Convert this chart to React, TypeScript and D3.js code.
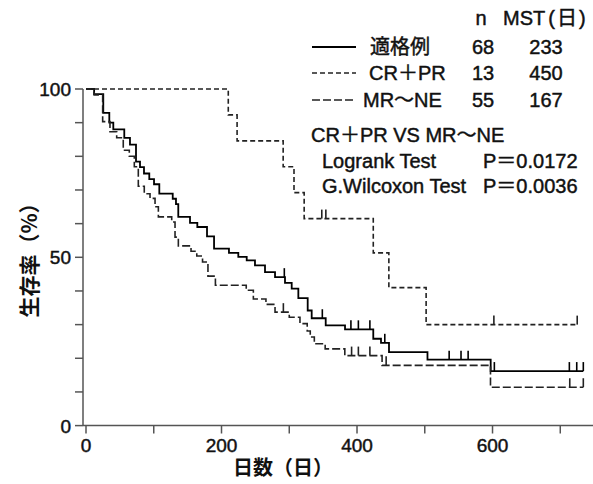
import React from "react";
import * as d3 from "d3";

// ---- data ----
const eligibleTimes = [12, 25.5, 34.4, 40.3, 56.5, 64.9, 73.8, 79.7, 85.6, 93.4, 100.4, 108.2, 128, 132.8, 136.2, 153.5, 164.3, 178.6, 189, 211, 224.8, 237.2, 249.4, 264.2, 279, 293.7, 303.6, 313.4, 327.2, 333.1, 353.8, 382.3, 424, 435.4, 447.2, 504, 597.3];
const eligibleSurv = [98.5, 92.9, 90.0, 88.0, 85.5, 83.5, 78.4, 76.8, 74.9, 73.2, 71.7, 68.9, 67.4, 65.8, 62.0, 60.2, 59.0, 56.2, 52.6, 51.3, 50.1, 49.1, 47.6, 45.6, 44.1, 42.4, 40.7, 37.9, 34.2, 31.9, 29.8, 28.6, 25.8, 24.6, 21.8, 19.6, 16.2];
const eligibleCensored = [292.7, 348.8, 391, 402, 419, 441, 536, 553.5, 564, 602.7, 713.4, 724.3, 734];
const eligibleEnd = 734;

const crprTimes = [210, 223, 291, 307, 322, 424, 447, 502];
const crprSurv = [92.3, 84.6, 76.9, 69.2, 61.5, 51.3, 41.0, 30.0];
const crprCensored = [348, 354, 602, 725];
const crprEnd = 725;

const mrneTimes = [12, 24.6, 35.4, 45.3, 55, 63.9, 71.3, 77.2, 86, 94.5, 101.9, 106.8, 126.5, 131.4, 136.3, 155, 163.5, 172, 180, 191, 236.5, 247, 265.6, 279, 300, 315.8, 326.5, 331, 337, 353, 382, 437, 597];
const mrneSurv = [98.2, 90.3, 87.3, 85.5, 81.8, 80.0, 76.9, 71.1, 68.9, 67.5, 65.0, 62.0, 60.5, 56.0, 53.4, 51.8, 50.4, 48.6, 44.4, 41.7, 40.2, 37.6, 36.0, 33.7, 32.2, 30.3, 28.1, 26.3, 24.3, 22.8, 20.8, 17.9, 11.4];
const mrneCensored = [291.3, 392, 402, 419, 443, 714, 734];
const mrneEnd = 734;

const groupNames = ["適格例", "CR＋PR", "MR〜NE"];
const groupN = ["68", "13", "55"];
const groupMST = ["233", "450", "167"];

const xTicks = [0, 100, 200, 300, 400, 500, 600, 700];
const xTickLabels = [0, 200, 400, 600];
const yTicks = [0, 10, 20, 30, 40, 50, 60, 70, 80, 90, 100];
const yTickLabels = [0, 50, 100];

const compareTitle = "CR＋PR VS MR〜NE";
const testNames = ["Logrank Test", "G.Wilcoxon Test"];
const testP = ["P＝0.0172", "P＝0.0036"];

// ---- layout ----
const W = 593, H = 484;
const x = d3.scaleLinear().domain([0, 748.3]).range([86, 593]);
const y = d3.scaleLinear().domain([0, 100]).range([425.6, 89]);
const axisX = 83;
const axisY = 425.5;

const latin = "'Liberation Sans', 'Noto Sans CJK JP', sans-serif";
const cjk = "'Noto Sans CJK JP', sans-serif";
const ink = "#111";
const txt = { fontFamily: latin, fill: ink, stroke: ink, strokeWidth: 0.45 } as const;

type Series = { times: number[]; surv: number[]; censored: number[]; end: number; dash: string; color: string; width: number };

const series: Series[] = [
  { times: eligibleTimes, surv: eligibleSurv, censored: eligibleCensored, end: eligibleEnd, dash: "", color: "#000", width: 1.8 },
  { times: crprTimes, surv: crprSurv, censored: crprCensored, end: crprEnd, dash: "5,3", color: "#222", width: 1.6 },
  { times: mrneTimes, surv: mrneSurv, censored: mrneCensored, end: mrneEnd, dash: "8,3", color: "#222", width: 1.6 },
];

function survAt(s: Series, t: number) {
  let v = 100;
  for (let i = 0; i < s.times.length; i++) if (s.times[i] <= t) v = s.surv[i];
  return v;
}

function pathFor(s: Series) {
  const pts: [number, number][] = [[0, 100]];
  s.times.forEach((t, i) => pts.push([t, s.surv[i]]));
  pts.push([s.end, s.surv[s.surv.length - 1]]);
  const line = d3.line<[number, number]>().x((d) => x(d[0])).y((d) => y(d[1])).curve(d3.curveStepAfter);
  return line(pts) || "";
}

export default function App() {
  const legendRows = [47, 73, 100];
  return (
    <svg width={W} height={H} style={{ position: "absolute", left: 0, top: 0, background: "#fff" }}>
      <rect width={W} height={H} fill="#fff" />
      {/* axes */}
      <line x1={axisX} x2={axisX} y1={y(100)} y2={axisY} stroke="#555" strokeWidth={1.5} />
      <line x1={axisX} x2={W} y1={axisY} y2={axisY} stroke="#555" strokeWidth={1.5} />
      {yTicks.map((t) => (
        <line key={"yt" + t} x1={axisX - 8} x2={axisX} y1={y(t)} y2={y(t)} stroke="#555" strokeWidth={1.5} />
      ))}
      {yTickLabels.map((t) => (
        <text key={"yl" + t} x={71} y={y(t) + 7} textAnchor="end" fontSize={19} {...txt}>{t}</text>
      ))}
      {xTicks.map((t) => (
        <line key={"xt" + t} x1={x(t)} x2={x(t)} y1={axisY} y2={axisY + 8} stroke="#555" strokeWidth={1.5} />
      ))}
      {xTickLabels.map((t) => (
        <text key={"xl" + t} x={x(t)} y={452} textAnchor="middle" fontSize={19} {...txt}>{t}</text>
      ))}
      <text x={283} y={475} textAnchor="middle" fontFamily={cjk} fontWeight="bold" fontSize={20} fill={ink}>日数（日）</text>
      <text transform={`translate(37,255) rotate(-90)`} textAnchor="middle" fontFamily={cjk} fontWeight="bold" fontSize={21} fill={ink}>生存率（%）</text>

      {/* curves */}
      {series.map((s, i) => (
        <g key={"s" + i}>
          <path d={pathFor(s)} fill="none" stroke={s.color} strokeWidth={s.width} strokeDasharray={s.dash} />
          {s.censored.map((c, j) => (
            <line key={j} x1={x(c)} x2={x(c)} y1={y(survAt(s, c))} y2={y(survAt(s, c)) - 9} stroke={s.color} strokeWidth={1.6} />
          ))}
        </g>
      ))}

      {/* legend */}
      <text x={481} y={25} textAnchor="middle" fontSize={20} {...txt}>n</text>
      <text x={503} y={25} fontSize={20} {...txt}>MST<tspan dx={3}>(</tspan><tspan dx={2}>日</tspan><tspan dx={2}>)</tspan></text>
      {series.map((s, i) => (
        <g key={"lg" + i}>
          <line x1={312} x2={356} y1={legendRows[i]} y2={legendRows[i]} stroke={s.color} strokeWidth={s.width} strokeDasharray={s.dash} />
          <text x={[370, 369, 363][i]} y={legendRows[i] + 7} fontSize={20} {...txt}>{groupNames[i]}</text>
          <text x={483} y={legendRows[i] + 7} textAnchor="middle" fontSize={20} {...txt}>{groupN[i]}</text>
          <text x={546} y={legendRows[i] + 7} textAnchor="middle" fontSize={20} {...txt}>{groupMST[i]}</text>
        </g>
      ))}
      <text x={311} y={142} fontSize={20} {...txt}>{compareTitle}</text>
      {testNames.map((n, i) => (
        <g key={"tn" + i}>
          <text x={322} y={168 + i * 25} fontSize={20} {...txt}>{n}</text>
          <text x={483} y={168 + i * 25} fontSize={20} {...txt}>{testP[i]}</text>
        </g>
      ))}
    </svg>
  );
}
